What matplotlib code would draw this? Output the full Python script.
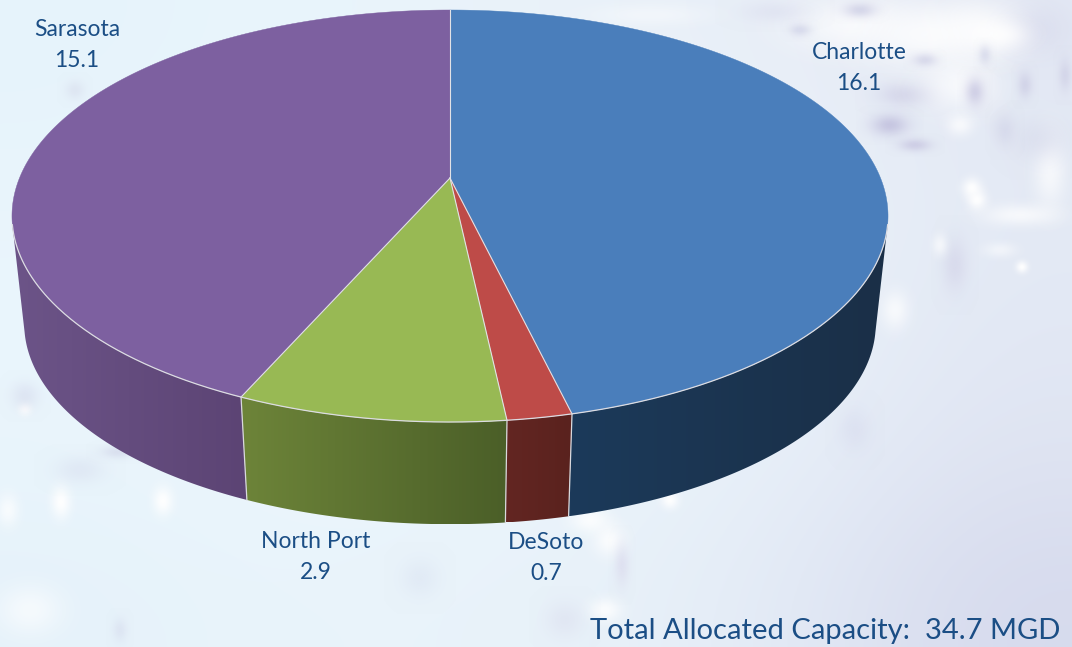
import numpy as np
import matplotlib
matplotlib.use("Agg")
from matplotlib import pyplot as plt
from matplotlib.colors import to_rgb
from matplotlib.patches import Polygon

# chart data
names = ["Charlotte", "DeSoto", "North Port", "Sarasota"]
values = [16.1, 0.7, 2.9, 15.1]
top_colors = ["#4a7ebb", "#be4b48", "#98b954", "#7d60a0"]
side_left = ["#1c3a5a", "#632622", "#6d8439", "#6c5488"]
side_right = ["#1a2f47", "#5a221e", "#4b5f28", "#5c4474"]
text_color = "#1b4e85"

# background wash, rows top to bottom
bg_grid = [
    ["#e6f3fb", "#e9f5fc", "#e9f3fa", "#e9f1f9", "#e9eef7", "#e3e8f4"],
    ["#e9f5fc", "#ebf6fd", "#eaf4fb", "#eaf3fb", "#eaf1f9", "#e4eaf5"],
    ["#eaf5fc", "#ecf6fd", "#ebf5fc", "#ebf5fc", "#e9f1f9", "#e2e8f4"],
    ["#e9f5fc", "#ecf6fd", "#ebf5fc", "#eaf4fb", "#e7eef8", "#dfe4f2"],
    ["#e6f2fa", "#e9f4fb", "#e9f3fa", "#e8f1f9", "#e2e9f5", "#d6daed"],
]
# soft splash spots: x, y, half width, half height, colour, alpha
splash = [
    (850, 25, 110, 50, "#ffffff", 0.7), (930, 35, 120, 60, "#ffffff", 0.8),
    (985, 30, 90, 50, "#ffffff", 0.8), (905, 95, 50, 22, "#cfcfe6", 0.7),
    (960, 85, 70, 50, "#ffffff", 0.7), (1040, 30, 60, 50, "#d6d9ec", 0.6),
    (975, 92, 18, 26, "#c9c8e2", 0.8), (890, 125, 34, 20, "#c4c3df", 0.9),
    (915, 145, 30, 12, "#c9c8e2", 0.8), (1000, 35, 50, 25, "#ffffff", 0.8),
    (1050, 170, 30, 70, "#ffffff", 0.7), (1040, 140, 50, 40, "#d4d7ea", 0.5),
    (1005, 130, 20, 30, "#d4d7ea", 0.7), (960, 125, 24, 20, "#ffffff", 0.7),
    (860, 10, 30, 14, "#cfd0e6", 0.8), (800, 30, 20, 12, "#d4d7ea", 0.8),
    (1025, 85, 14, 24, "#cfd0e6", 0.8), (1065, 75, 12, 30, "#cfd0e6", 0.7),
    (925, 60, 22, 12, "#cfd0e6", 0.7), (985, 55, 12, 18, "#d4d7ea", 0.7),
    (972, 188, 18, 18, "#ffffff", 0.95), (977, 200, 18, 18, "#ffffff", 0.95),
    (955, 265, 24, 50, "#d5d6ea", 0.7), (1020, 215, 70, 20, "#ffffff", 0.7),
    (1022, 267, 11, 11, "#ffffff", 0.95), (895, 310, 26, 36, "#ffffff", 0.7),
    (940, 245, 14, 20, "#ffffff", 0.6), (1000, 250, 30, 14, "#ffffff", 0.5),
    (650, 15, 110, 20, "#ffffff", 0.4), (775, 12, 60, 20, "#d9dcee", 0.5),
    (25, 409, 12, 12, "#ffffff", 0.95), (25, 396, 26, 26, "#d7ddee", 0.6),
    (61, 502, 18, 30, "#ffffff", 0.95), (163, 501, 18, 26, "#ffffff", 0.95),
    (118, 452, 32, 12, "#d5daec", 0.7), (8, 510, 20, 30, "#ffffff", 0.7),
    (80, 470, 46, 26, "#d8deef", 0.5), (30, 610, 60, 46, "#ffffff", 0.6),
    (120, 630, 14, 22, "#d8deef", 0.6), (420, 578, 36, 36, "#dde6f3", 0.6),
    (610, 540, 30, 30, "#ffffff", 0.8), (590, 520, 36, 24, "#ffffff", 0.8),
    (622, 565, 14, 40, "#dcdcee", 0.7), (605, 610, 30, 22, "#ffffff", 0.8),
    (565, 620, 36, 34, "#dde1f0", 0.6), (670, 500, 16, 16, "#ffffff", 0.95),
    (75, 90, 18, 18, "#d9dfee", 0.6), (855, 430, 30, 40, "#d9ddef", 0.6),
]

# perspective of the pie disc, in pixels
cx, cy = 450, 178
a, b, k = 430.5, 199.0, 0.1845
depth_scale, depth_y = 0.972, 287.0
side_from, side_to = 103, 257


def top_edge(theta):
    # theta in degrees, clockwise from twelve o'clock
    u = np.sin(np.radians(theta))
    v = np.cos(np.radians(theta))
    return cx + a * u / (1 + k * v), cy - b * v / (1 + k * v)


def bottom_edge(theta):
    x, y = top_edge(theta)
    return cx + depth_scale * (x - cx), depth_y + depth_scale * (y - cy)


fig = plt.figure(figsize=(10.72, 6.47), dpi=100)
ax = fig.add_axes([0, 0, 1, 1])

bg = np.array([[to_rgb(c) for c in row] for row in bg_grid])
ax.imshow(bg, extent=(0, 1072, 647, 0), aspect="auto", interpolation="bicubic", zorder=0)

# each spot is a small soft image
gy, gx = np.mgrid[-1:1:41j, -1:1:41j]
soft = np.exp(-(gx ** 2 + gy ** 2) * 3.5)
for x, y, w, h, col, alpha in splash:
    spot = np.zeros((41, 41, 4))
    spot[..., :3] = to_rgb(col)
    spot[..., 3] = soft * alpha
    ax.imshow(spot, extent=(x - w, x + w, y + h, y - h), aspect="auto",
              interpolation="bilinear", zorder=1)

edges = 360 * np.concatenate([[0], np.cumsum(values)]) / np.sum(values)

# sides first, then the top faces over them
for i in range(len(values)):
    t0, t1 = max(edges[i], side_from), min(edges[i + 1], side_to)
    if t1 <= t0:
        continue
    th = np.linspace(t0, t1, 300)
    xt, yt = top_edge(th)
    xb, yb = bottom_edge(th)
    outline = np.vstack([np.column_stack([xt, yt]), np.column_stack([xb, yb])[::-1]])
    shape = Polygon(outline, closed=True, fc="none", ec="none", transform=ax.transData)
    ax.add_patch(shape)
    # horizontal shading, left side colour to right side colour
    ramp = np.linspace(0, 1, 64)[None, :, None]
    shade = (1 - ramp) * np.array(to_rgb(side_left[i])) + ramp * np.array(to_rgb(side_right[i]))
    im = ax.imshow(shade, extent=(outline[:, 0].min(), outline[:, 0].max(), outline[:, 1].max(), outline[:, 1].min()),
                   aspect="auto", interpolation="bilinear", zorder=2)
    im.set_clip_path(shape)

for i in range(len(values)):
    th = np.linspace(edges[i], edges[i + 1], 300)
    xt, yt = top_edge(th)
    pts = np.vstack([[cx, cy], np.column_stack([xt, yt])])
    ax.add_patch(Polygon(pts, closed=True, fc=top_colors[i], ec=top_colors[i], lw=0.3, zorder=3))

# light seams: spokes, front rim, and down the side
for t in edges[:-1]:
    x0, y0 = top_edge(t)
    ax.plot([cx, x0], [cy, y0], color="#e2e2e6", lw=0.8, zorder=4)
th = np.linspace(side_from, side_to, 400)
ax.plot(*top_edge(th), color="#dcdce2", lw=0.9, zorder=4)
for t in edges[1:-1]:
    x0, y0 = top_edge(t)
    x1, y1 = bottom_edge(t)
    ax.plot([x0, x1], [y0, y1], color="#d9d9dd", lw=0.9, zorder=4)

font = "Lato"
label_pos = {"Charlotte": (859, 68), "DeSoto": (546, 558),
             "North Port": (316, 557), "Sarasota": (77, 45)}
for name, val in zip(names, values):
    x, y = label_pos[name]
    ax.text(x, y, "{0}\n{1}".format(name, val), ha="center", va="center", color=text_color,
            fontsize=16.5, family=font, linespacing=1.6, zorder=5)

ax.text(1060, 631, "Total Allocated Capacity:  34.7 MGD", ha="right", va="center",
        color=text_color, fontsize=21, family=font, zorder=5)

ax.set_xlim(0, 1072)
ax.set_ylim(647, 0)
ax.axis("off")

fig.savefig("out.png", dpi=100)
